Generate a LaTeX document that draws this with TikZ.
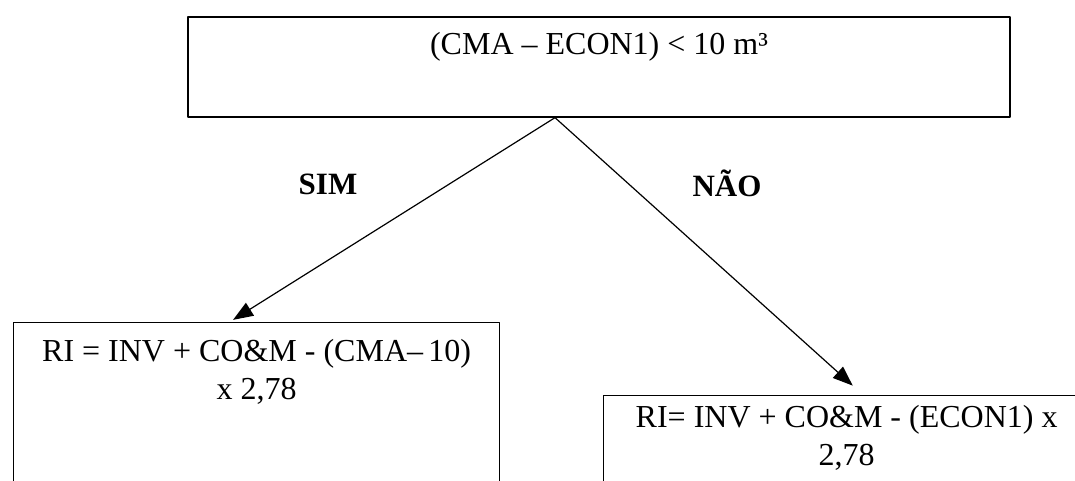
\documentclass[tikz,border=0pt]{standalone}
\usepackage{fontspec}
\setmainfont{Liberation Serif}
\usepackage{tikz}
\usetikzlibrary{arrows.meta,positioning}
\tikzset{
  every picture/.style={line join=round, line cap=round, >=Stealth},
  caixa/.style={draw, line width=1.3pt, minimum width=486pt, minimum height=200pt, inner sep=0pt},
  texto/.style={font=\fontsize{32}{38}\selectfont, align=center, inner sep=0pt},
  rotulo/.style={font=\fontsize{31}{36}\selectfont\bfseries, inner sep=0pt},
  seta/.style={-{Triangle[length=20pt,width=15pt]}, line width=1.2pt},
}
\begin{document}
\begin{tikzpicture}[x=1pt,y=-1pt]
\useasboundingbox (0,0) rectangle (1075,481);
\clip (0,0) rectangle (1075,481);
\fill[white] (0,0) rectangle (1075,481);
\node[caixa, minimum width=822pt, minimum height=100pt] (cond) at (599,67) {};
\node[texto, below=16pt of cond.north] (condtxt) {(CMA – ECON1) < 10 m³};
\node[caixa, anchor=north west] (ladosim) at (13,322) {};
\node[texto, below=17pt of ladosim.north] (simtxt) {RI = INV + CO\&M - (CMA–\,10)\\x 2,78};
\node[caixa, anchor=north west] (ladonao) at (603,395) {};
\node[texto, below=10pt of ladonao.north] (naotxt) {RI= INV + CO\&M - (ECON1) x\\2,78};
\coordinate (apex) at ([xshift=-44pt]cond.south);
\node[rotulo] (sim) at (328,184) {SIM};
\node[rotulo] (nao) at (727,183) {NÃO};
\draw[seta, shorten >=4pt] (apex) -- ([xshift=-27pt]ladosim.north);
\draw[seta, shorten >=14pt] (apex) -- ([xshift=16.5pt]ladonao.north);
\end{tikzpicture}
\end{document}
